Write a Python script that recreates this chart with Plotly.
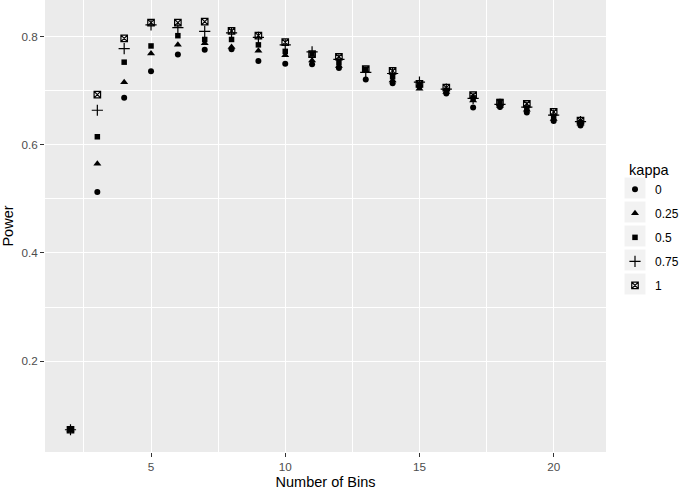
import plotly.graph_objects as go

bins = list(range(2, 22))
kappa_labels = ["0", "0.25", "0.5", "0.75", "1"]

power_k0 = [0.073, 0.513, 0.687, 0.736, 0.767, 0.776, 0.777, 0.755, 0.750, 0.749, 0.742,
            0.721, 0.714, 0.708, 0.695, 0.669, 0.670, 0.660, 0.644, 0.636]
power_k025 = [0.073, 0.565, 0.716, 0.769, 0.785, 0.788, 0.781, 0.774, 0.766, 0.756, 0.746,
              0.736, 0.719, 0.704, 0.698, 0.682, 0.672, 0.665, 0.648, 0.639]
power_k05 = [0.073, 0.615, 0.753, 0.783, 0.802, 0.795, 0.795, 0.785, 0.773, 0.768, 0.752,
             0.740, 0.726, 0.711, 0.701, 0.687, 0.680, 0.668, 0.652, 0.641]
power_k075 = [0.073, 0.664, 0.778, 0.822, 0.817, 0.810, 0.807, 0.799, 0.785, 0.772, 0.758,
              0.734, 0.732, 0.716, 0.703, 0.686, 0.675, 0.670, 0.655, 0.643]
power_k1 = [0.073, 0.693, 0.797, 0.826, 0.826, 0.828, 0.811, 0.802, 0.790, 0.768, 0.763,
            0.740, 0.737, 0.713, 0.706, 0.692, 0.678, 0.676, 0.661, 0.645]

series = [power_k0, power_k025, power_k05, power_k075, power_k1]
symbols = ["circle", "triangle-up", "square", "cross-thin-open", "square-x-open"]
sizes = [6, 7, 5.5, 8, 6.5]

FONT = "Liberation Sans, Arial, sans-serif"

# plot-area geometry in pixels (for placing legend decorations)
L_PX, R_PX, T_PX, B_PX = 45, 606, 0, 452
W_PX = R_PX - L_PX
H_PX = B_PX - T_PX


def px2paper_x(px):
    return (px - L_PX) / W_PX


def px2paper_y(py):
    return 1 - (py - T_PX) / H_PX


fig = go.Figure()
for i, (lab, vals) in enumerate(zip(kappa_labels, series)):
    open_sym = symbols[i].endswith("open")
    fig.add_trace(go.Scatter(
        x=bins, y=vals, mode="markers", name=lab, legendgroup=lab,
        marker=dict(symbol=symbols[i], size=sizes[i], color="black",
                    line=dict(color="black", width=1.2 if open_sym else 0)),
    ))

legend_left_px = 615
legend_top_px = 156
key_cx = legend_left_px + 20
row_spacing = 24
first_row = legend_top_px + 32

shapes = []
for k in range(len(kappa_labels)):
    cy = first_row + k * row_spacing
    shapes.append(dict(
        type="rect", xref="paper", yref="paper", layer="below",
        x0=px2paper_x(key_cx - 10.5), x1=px2paper_x(key_cx + 10.5),
        y0=px2paper_y(cy + 10.5), y1=px2paper_y(cy - 10.5),
        fillcolor="#F2F2F2", line=dict(width=0),
    ))

fig.update_layout(
    width=685, height=491,
    margin=dict(l=45, r=79, t=0, b=39),
    paper_bgcolor="white", plot_bgcolor="#EBEBEB",
    font=dict(family=FONT, size=12, color="black"),
    showlegend=True,
    legend=dict(
        title=dict(text="&nbsp;&nbsp;&nbsp;kappa", side="top", font=dict(size=14.5, color="black")),
        x=px2paper_x(legend_left_px), xanchor="left",
        y=px2paper_y(legend_top_px), yanchor="top",
        font=dict(size=12, color="black"),
        traceorder="grouped", tracegroupgap=5,
        bgcolor="rgba(0,0,0,0)",
    ),
    shapes=shapes,
)

fig.update_xaxes(
    range=[1.05, 21.95], tickvals=[5, 10, 15, 20], ticktext=["5", "10", "15", "20"],
    showgrid=True, gridcolor="white", gridwidth=1.1, zeroline=False,
    ticks="outside", ticklen=4, tickwidth=1, tickcolor="#333333",
    tickfont=dict(size=11.7, color="#4D4D4D"),
    minor=dict(tickvals=[2.5, 7.5, 12.5, 17.5], showgrid=True, gridcolor="white", gridwidth=0.5, ticks=""),
    title=dict(text="Number of Bins", font=dict(size=14.5, color="black"), standoff=4),
    automargin=False, showline=False,
)
fig.update_yaxes(
    range=[0.0318, 0.868], tickvals=[0.2, 0.4, 0.6, 0.8], ticktext=["0.2", "0.4", "0.6", "0.8"],
    showgrid=True, gridcolor="white", gridwidth=1.1, zeroline=False,
    ticks="outside", ticklen=4, tickwidth=1, tickcolor="#333333",
    tickfont=dict(size=11.7, color="#4D4D4D"),
    minor=dict(tickvals=[0.3, 0.5, 0.7], showgrid=True, gridcolor="white", gridwidth=0.5, ticks=""),
    title=dict(text="Power", font=dict(size=14.5, color="black"), standoff=4),
    automargin=False, showline=False,
)

fig.write_html("out.html", config={"displayModeBar": False},
               post_script="document.body.style.margin='0';")
